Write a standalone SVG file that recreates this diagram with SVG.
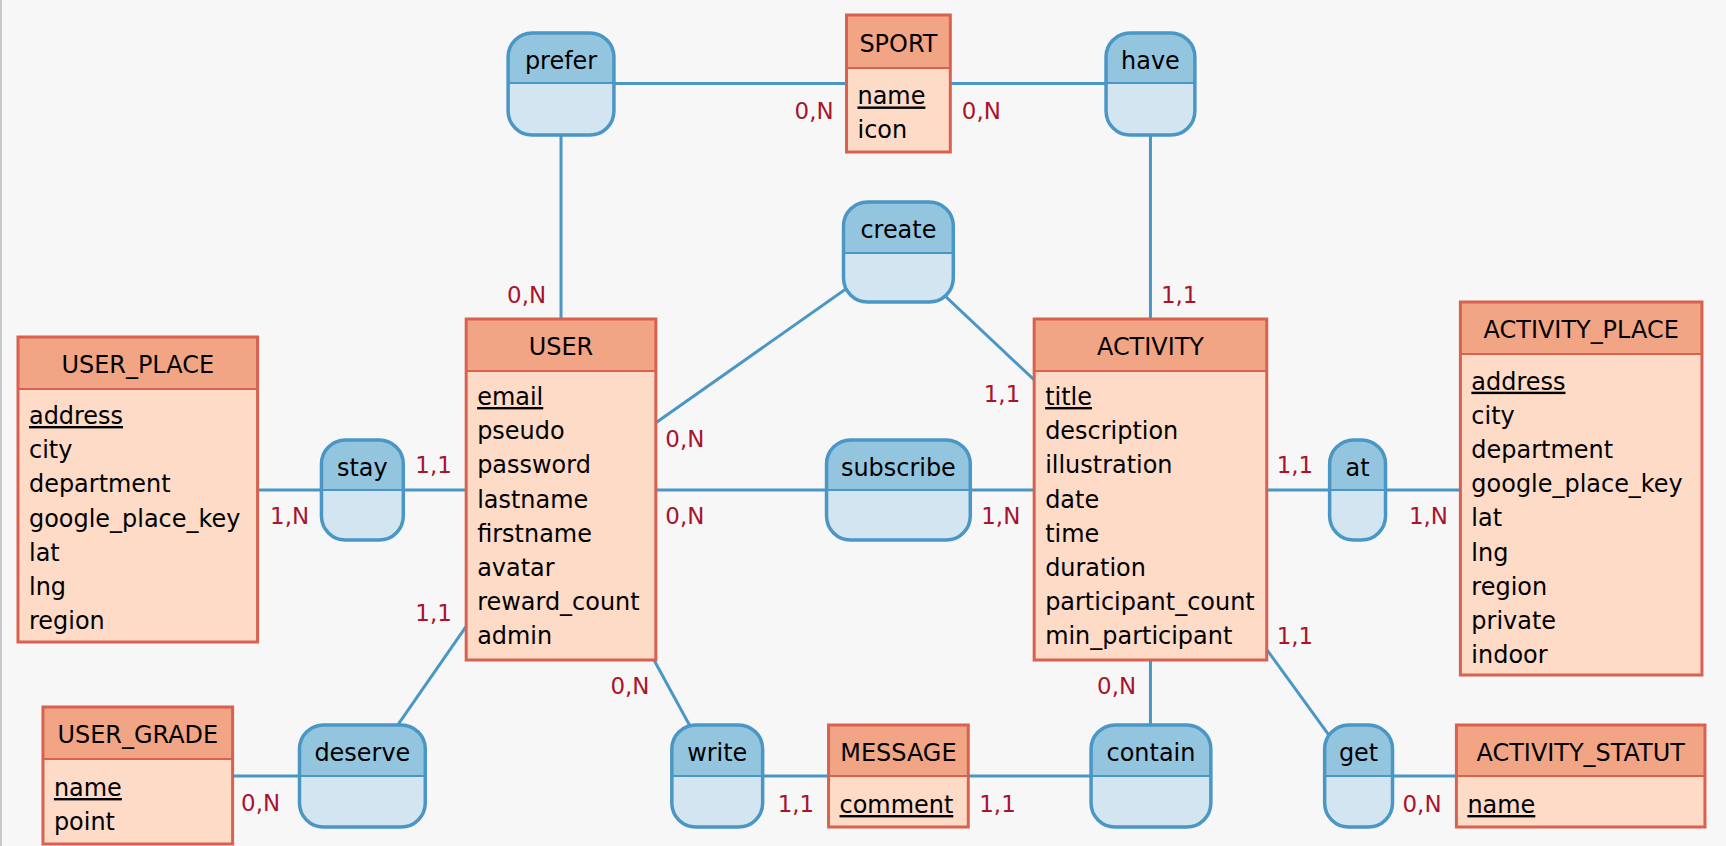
<svg xmlns="http://www.w3.org/2000/svg" width="1726" height="846" viewBox="0 0 1726 846">
<style>
text{font-family:"DejaVu Sans","Liberation Sans",sans-serif;font-size:24px;fill:#000}
.t{text-anchor:middle}
.id{text-decoration:underline}
.card{font-size:23px;fill:#A8142C}
.ebody{fill:#FDDBC7;stroke:none}
.ehead{fill:#F2A585;stroke:none}
.ediv{stroke:#D9614F;stroke-width:2}
.eframe{fill:none;stroke:#D9614F;stroke-width:3}
.abody{fill:#D2E5F0;stroke:none}
.ahead{fill:#94C5DE;stroke:none}
.adiv{stroke:#4A96C5;stroke-width:2}
.aframe{fill:none;stroke:#4A96C5;stroke-width:3.5}
.link{stroke:#4A96C5;stroke-width:3;fill:none}
</style>
<rect x="0" y="0" width="1726" height="846" fill="#F7F7F7"/>
<rect x="0" y="0" width="2" height="846" fill="#C9C9C9"/>
<g transform="matrix(0.9982 0 0 1 0.03 0)">
<g id="connectors">
<line class="link" x1="562" y1="83.5" x2="1152.5" y2="83.5"/>
<line class="link" x1="562" y1="84" x2="562" y2="489.5"/>
<line class="link" x1="1152.5" y1="84" x2="1152.5" y2="489.5"/>
<line class="link" x1="900" y1="252" x2="562" y2="489.5"/>
<line class="link" x1="900" y1="252" x2="1152.5" y2="489.5"/>
<line class="link" x1="138" y1="490" x2="1584" y2="490"/>
<line class="link" x1="363" y1="776" x2="562" y2="489.5"/>
<line class="link" x1="138" y1="776" x2="363" y2="776"/>
<line class="link" x1="718.5" y1="776" x2="562" y2="489.5"/>
<line class="link" x1="718.5" y1="776" x2="1152.5" y2="776"/>
<line class="link" x1="1152.5" y1="776" x2="1152.5" y2="489.5"/>
<line class="link" x1="1361" y1="776" x2="1152.5" y2="489.5"/>
<line class="link" x1="1361" y1="776" x2="1583" y2="776"/>
</g>
<g id="prefer">
<rect class="abody" x="509" y="33" width="106" height="102" rx="24"/>
<path class="ahead" d="M509,83 V57 A24,24 0 0 1 533,33 H591 A24,24 0 0 1 615,57 V83 Z"/>
<line class="adiv" x1="509" y1="83" x2="615" y2="83"/>
<rect class="aframe" x="509" y="33" width="106" height="102" rx="24"/>
<text class="t" x="562" y="69">prefer</text>
</g>
<g id="have">
<rect class="abody" x="1108" y="33" width="89" height="102" rx="24"/>
<path class="ahead" d="M1108,83 V57 A24,24 0 0 1 1132,33 H1173 A24,24 0 0 1 1197,57 V83 Z"/>
<line class="adiv" x1="1108" y1="83" x2="1197" y2="83"/>
<rect class="aframe" x="1108" y="33" width="89" height="102" rx="24"/>
<text class="t" x="1152.5" y="69">have</text>
</g>
<g id="create">
<rect class="abody" x="845" y="202" width="110" height="100" rx="24"/>
<path class="ahead" d="M845,253 V226 A24,24 0 0 1 869,202 H931 A24,24 0 0 1 955,226 V253 Z"/>
<line class="adiv" x1="845" y1="253" x2="955" y2="253"/>
<rect class="aframe" x="845" y="202" width="110" height="100" rx="24"/>
<text class="t" x="900" y="238.5">create</text>
</g>
<g id="stay">
<rect class="abody" x="322" y="440" width="82" height="100" rx="24"/>
<path class="ahead" d="M322,490 V464 A24,24 0 0 1 346,440 H380 A24,24 0 0 1 404,464 V490 Z"/>
<line class="adiv" x1="322" y1="490" x2="404" y2="490"/>
<rect class="aframe" x="322" y="440" width="82" height="100" rx="24"/>
<text class="t" x="363" y="476">stay</text>
</g>
<g id="subscribe">
<rect class="abody" x="828" y="440" width="144" height="100" rx="24"/>
<path class="ahead" d="M828,490 V464 A24,24 0 0 1 852,440 H948 A24,24 0 0 1 972,464 V490 Z"/>
<line class="adiv" x1="828" y1="490" x2="972" y2="490"/>
<rect class="aframe" x="828" y="440" width="144" height="100" rx="24"/>
<text class="t" x="900" y="476">subscribe</text>
</g>
<g id="at">
<rect class="abody" x="1332" y="440" width="56" height="100" rx="24"/>
<path class="ahead" d="M1332,490 V464 A24,24 0 0 1 1356,440 H1364 A24,24 0 0 1 1388,464 V490 Z"/>
<line class="adiv" x1="1332" y1="490" x2="1388" y2="490"/>
<rect class="aframe" x="1332" y="440" width="56" height="100" rx="24"/>
<text class="t" x="1360" y="476">at</text>
</g>
<g id="deserve">
<rect class="abody" x="300" y="725" width="126" height="102" rx="24"/>
<path class="ahead" d="M300,776 V749 A24,24 0 0 1 324,725 H402 A24,24 0 0 1 426,749 V776 Z"/>
<line class="adiv" x1="300" y1="776" x2="426" y2="776"/>
<rect class="aframe" x="300" y="725" width="126" height="102" rx="24"/>
<text class="t" x="363" y="761.5">deserve</text>
</g>
<g id="write">
<rect class="abody" x="673" y="725" width="91" height="102" rx="24"/>
<path class="ahead" d="M673,776 V749 A24,24 0 0 1 697,725 H740 A24,24 0 0 1 764,749 V776 Z"/>
<line class="adiv" x1="673" y1="776" x2="764" y2="776"/>
<rect class="aframe" x="673" y="725" width="91" height="102" rx="24"/>
<text class="t" x="718.5" y="761.5">write</text>
</g>
<g id="contain">
<rect class="abody" x="1093" y="725" width="120" height="102" rx="24"/>
<path class="ahead" d="M1093,776 V749 A24,24 0 0 1 1117,725 H1189 A24,24 0 0 1 1213,749 V776 Z"/>
<line class="adiv" x1="1093" y1="776" x2="1213" y2="776"/>
<rect class="aframe" x="1093" y="725" width="120" height="102" rx="24"/>
<text class="t" x="1153" y="761.5">contain</text>
</g>
<g id="get">
<rect class="abody" x="1327" y="725" width="68" height="102" rx="24"/>
<path class="ahead" d="M1327,776 V749 A24,24 0 0 1 1351,725 H1371 A24,24 0 0 1 1395,749 V776 Z"/>
<line class="adiv" x1="1327" y1="776" x2="1395" y2="776"/>
<rect class="aframe" x="1327" y="725" width="68" height="102" rx="24"/>
<text class="t" x="1361" y="761.5">get</text>
</g>
<g id="SPORT">
<rect class="ebody" x="848" y="15" width="104" height="137"/>
<rect class="ehead" x="848" y="15" width="104" height="53"/>
<line class="ediv" x1="848" y1="68" x2="952" y2="68"/>
<rect class="eframe" x="848" y="15" width="104" height="137"/>
<text class="t" x="900" y="52.5">SPORT</text>
<text class="id" x="859" y="104.5">name</text>
<text x="859" y="138">icon</text>
</g>
<g id="USER">
<rect class="ebody" x="467" y="319" width="190" height="341"/>
<rect class="ehead" x="467" y="319" width="190" height="52"/>
<line class="ediv" x1="467" y1="371" x2="657" y2="371"/>
<rect class="eframe" x="467" y="319" width="190" height="341"/>
<text class="t" x="562" y="355.5">USER</text>
<text class="id" x="478" y="405">email</text>
<text x="478" y="439.2">pseudo</text>
<text x="478" y="473.4">password</text>
<text x="478" y="507.6">lastname</text>
<text x="478" y="541.8">firstname</text>
<text x="478" y="576">avatar</text>
<text x="478" y="610.2">reward_count</text>
<text x="478" y="644.4">admin</text>
</g>
<g id="ACTIVITY">
<rect class="ebody" x="1036" y="319" width="233" height="341"/>
<rect class="ehead" x="1036" y="319" width="233" height="52"/>
<line class="ediv" x1="1036" y1="371" x2="1269" y2="371"/>
<rect class="eframe" x="1036" y="319" width="233" height="341"/>
<text class="t" x="1152.5" y="355.5">ACTIVITY</text>
<text class="id" x="1047" y="405">title</text>
<text x="1047" y="439.2">description</text>
<text x="1047" y="473.4">illustration</text>
<text x="1047" y="507.6">date</text>
<text x="1047" y="541.8">time</text>
<text x="1047" y="576">duration</text>
<text x="1047" y="610.2">participant_count</text>
<text x="1047" y="644.4">min_participant</text>
</g>
<g id="USER_PLACE">
<rect class="ebody" x="18" y="337" width="240" height="305"/>
<rect class="ehead" x="18" y="337" width="240" height="52"/>
<line class="ediv" x1="18" y1="389" x2="258" y2="389"/>
<rect class="eframe" x="18" y="337" width="240" height="305"/>
<text class="t" x="138" y="373.5">USER_PLACE</text>
<text class="id" x="29" y="424">address</text>
<text x="29" y="458.2">city</text>
<text x="29" y="492.4">department</text>
<text x="29" y="526.6">google_place_key</text>
<text x="29" y="560.8">lat</text>
<text x="29" y="595">lng</text>
<text x="29" y="629.2">region</text>
</g>
<g id="ACTIVITY_PLACE">
<rect class="ebody" x="1463" y="302" width="242" height="373"/>
<rect class="ehead" x="1463" y="302" width="242" height="52"/>
<line class="ediv" x1="1463" y1="354" x2="1705" y2="354"/>
<rect class="eframe" x="1463" y="302" width="242" height="373"/>
<text class="t" x="1584" y="338.5">ACTIVITY_PLACE</text>
<text class="id" x="1474" y="389.7">address</text>
<text x="1474" y="423.9">city</text>
<text x="1474" y="458.1">department</text>
<text x="1474" y="492.3">google_place_key</text>
<text x="1474" y="526.5">lat</text>
<text x="1474" y="560.7">lng</text>
<text x="1474" y="594.9">region</text>
<text x="1474" y="629.1">private</text>
<text x="1474" y="663.3">indoor</text>
</g>
<g id="USER_GRADE">
<rect class="ebody" x="43" y="707" width="190" height="137"/>
<rect class="ehead" x="43" y="707" width="190" height="52"/>
<line class="ediv" x1="43" y1="759" x2="233" y2="759"/>
<rect class="eframe" x="43" y="707" width="190" height="137"/>
<text class="t" x="138" y="743.5">USER_GRADE</text>
<text class="id" x="54" y="796">name</text>
<text x="54" y="830">point</text>
</g>
<g id="MESSAGE">
<rect class="ebody" x="830" y="725" width="140" height="102"/>
<rect class="ehead" x="830" y="725" width="140" height="51"/>
<line class="ediv" x1="830" y1="776" x2="970" y2="776"/>
<rect class="eframe" x="830" y="725" width="140" height="102"/>
<text class="t" x="900" y="761">MESSAGE</text>
<text class="id" x="841" y="813">comment</text>
</g>
<g id="ACTIVITY_STATUT">
<rect class="ebody" x="1459" y="725" width="249" height="102"/>
<rect class="ehead" x="1459" y="725" width="249" height="51"/>
<line class="ediv" x1="1459" y1="776" x2="1708" y2="776"/>
<rect class="eframe" x="1459" y="725" width="249" height="102"/>
<text class="t" x="1583.5" y="761">ACTIVITY_STATUT</text>
<text class="id" x="1470" y="813">name</text>
</g>
<g id="cardinalities">
<text class="card" x="796" y="119">0,N</text>
<text class="card" x="963.5" y="119">0,N</text>
<text class="card" x="508" y="303.5">0,N</text>
<text class="card" x="1163" y="303.5">1,1</text>
<text class="card" x="985.5" y="402">1,1</text>
<text class="card" x="666.5" y="447">0,N</text>
<text class="card" x="416" y="473.5">1,1</text>
<text class="card" x="270.5" y="524.5">1,N</text>
<text class="card" x="666.5" y="524.5">0,N</text>
<text class="card" x="983" y="524.5">1,N</text>
<text class="card" x="1279" y="473.5">1,1</text>
<text class="card" x="1411.5" y="524.5">1,N</text>
<text class="card" x="416" y="621.5">1,1</text>
<text class="card" x="241.5" y="811.5">0,N</text>
<text class="card" x="611.5" y="694.5">0,N</text>
<text class="card" x="779" y="812.5">1,1</text>
<text class="card" x="981" y="812.5">1,1</text>
<text class="card" x="1099" y="694.5">0,N</text>
<text class="card" x="1279" y="644.5">1,1</text>
<text class="card" x="1405" y="812.5">0,N</text>
</g>
</g>
</svg>
